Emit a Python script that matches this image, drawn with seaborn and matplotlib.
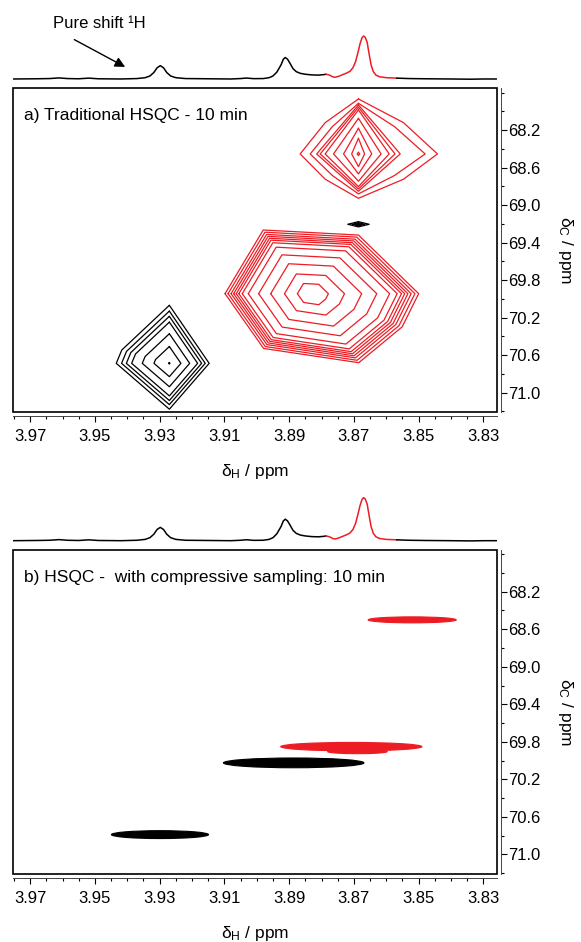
import numpy as np
import matplotlib
matplotlib.use("Agg")
import matplotlib.pyplot as plt
from matplotlib.patches import Ellipse, Rectangle
from matplotlib.ticker import FixedLocator, MultipleLocator, FormatStrFormatter
import seaborn as sns

RED = "#ed1c24"

# 1D pure shift spectrum (ppm, relative intensity)
spec_black1_ppm = [3.9752, 3.9680, 3.9640, 3.9611, 3.9585, 3.9550, 3.9519, 3.9490, 3.9420, 3.9370,
                   3.9345, 3.9330, 3.9318, 3.9308, 3.9298, 3.9288, 3.9278, 3.9266, 3.9250, 3.9220,
                   3.9150, 3.9080, 3.9050, 3.9032, 3.9010, 3.8980, 3.8962, 3.8950, 3.8938, 3.8925,
                   3.8918, 3.8912, 3.8905, 3.8897, 3.8888, 3.8878, 3.8865, 3.8850, 3.8830, 3.8810,
                   3.8795, 3.8786]
spec_black1_int = [0.0, 0.005, 0.01, 0.025, 0.01, 0.005, 0.02, 0.005, 0.0, 0.01,
                   0.03, 0.07, 0.15, 0.26, 0.31, 0.26, 0.15, 0.07, 0.03, 0.01,
                   0.005, 0.0, 0.01, 0.022, 0.008, 0.01, 0.03, 0.07, 0.16, 0.33,
                   0.46, 0.50, 0.46, 0.36, 0.24, 0.17, 0.13, 0.11, 0.095, 0.09,
                   0.10, 0.11]
spec_red_ppm = [3.8786, 3.8775, 3.8765, 3.8758, 3.8748, 3.8735, 3.8722, 3.8712, 3.8703, 3.8695,
                3.8688, 3.8681, 3.8675, 3.8670, 3.8665, 3.8659, 3.8653, 3.8647, 3.8640, 3.8632,
                3.8620, 3.8600, 3.8568]
spec_red_int = [0.11, 0.09, 0.05, 0.04, 0.06, 0.10, 0.14, 0.18, 0.26, 0.40,
                0.60, 0.82, 0.96, 1.0, 0.97, 0.85, 0.58, 0.33, 0.17, 0.09,
                0.05, 0.03, 0.02]
spec_black2_ppm = [3.8568, 3.8530, 3.8480, 3.8400, 3.8340, 3.8300, 3.8259]
spec_black2_int = [0.02, 0.01, 0.005, 0.0, -0.005, 0.0, 0.0]

# a) traditional HSQC
# upper red cross peak: one contour per level (half extents in ppm, shoulder factor)
red_top_center = (3.8686, 68.455)
red_top_left = [0.0180, 0.0149, 0.0129, 0.0118, 0.0103, 0.0077, 0.0046, 0.0021, 0.0004]
red_top_right = [0.0244, 0.0206, 0.0129, 0.0113, 0.0095, 0.0070, 0.0041, 0.0019, 0.0004]
red_top_up = [0.586, 0.540, 0.522, 0.498, 0.469, 0.380, 0.274, 0.167, 0.018]
red_top_down = [0.473, 0.426, 0.398, 0.373, 0.348, 0.291, 0.213, 0.135, 0.018]
red_top_shoulder = [0.57, 0.54, 0.5, 0.5, 0.5, 0.5, 0.5, 0.5, 0.5]

# small black peak
black_small_center = (3.8686, 69.205)
black_small_left = [0.0033, 0.0020, 0.0010]
black_small_right = [0.0033, 0.0020, 0.0010]
black_small_up = [0.028, 0.017, 0.008]
black_small_down = [0.028, 0.017, 0.008]
black_small_shoulder = [0.5, 0.5, 0.5]

# big red peak: outer contour vertices (offsets) and level scales
big_red_center = (3.8832, 69.945)
big_red_dx = [0.0266, 0.0148, -0.0146, -0.0332, -0.0281, -0.0147, 0.0147]
big_red_dy = [0, -0.679, -0.625, 0, 0.354, 0.736, 0.584]
big_red_levels = [1, 0.965, 0.93, 0.9, 0.87, 0.84, 0.8, 0.73, 0.61, 0.47, 0.31, 0.16]

# lower left black peak
black_ll_center = (3.9270, 70.688)
black_ll_dx = [0, 0.0147, 0.0164, 0, -0.0123]
black_ll_dy = [-0.619, -0.142, 0, 0.489, 0]
black_ll_levels = [1, 0.9, 0.81, 0.71, 0.51, 0.29, 0.015]

# b) compressive sampling peaks
ell_x = [3.852, 3.8708, 3.8689, 3.8886, 3.9299]
ell_y = [68.50, 69.852, 69.905, 70.025, 70.79]
ell_hw = [0.0136, 0.0218, 0.0092, 0.0217, 0.015]
ell_hh = [0.032, 0.045, 0.022, 0.052, 0.042]
ell_color = [RED, RED, RED, "black", "black"]

x_ticks = [3.97, 3.95, 3.93, 3.91, 3.89, 3.87, 3.85, 3.83]
y_ticks = [68.2, 68.6, 69.0, 69.4, 69.8, 70.2, 70.6, 71.0]
XLIM = (3.9752, 3.8259)
YLIM = (71.21, 67.755)

sns.set_style("ticks")
plt.rcParams['font.family'] = ['Liberation Sans', 'DejaVu Sans']
plt.rcParams['mathtext.fontset'] = 'custom'
plt.rcParams['mathtext.rm'] = 'Liberation Sans'
plt.rcParams['mathtext.it'] = 'Liberation Sans:italic'
for k in ['text.color', 'axes.labelcolor', 'xtick.color', 'ytick.color']:
    plt.rcParams[k] = 'black'

FW, FH = 581, 942
fig = plt.figure(figsize=(FW / 100, FH / 100), dpi=100)
L = 13.3 / FW
W = 483.4 / FW


def add_spectrum(top_px):
    ax = fig.add_axes([L, (FH - top_px - 86) / FH, W, 86 / FH])
    sns.lineplot(x=spec_black1_ppm, y=spec_black1_int, ax=ax, color="black", lw=1.1, sort=False, estimator=None)
    sns.lineplot(x=spec_red_ppm, y=spec_red_int, ax=ax, color=RED, lw=1.1, sort=False, estimator=None)
    sns.lineplot(x=spec_black2_ppm, y=spec_black2_int, ax=ax, color="black", lw=1.1, sort=False, estimator=None)
    ax.set_xlim(XLIM)
    ax.set_ylim(-0.163, 1.837)
    ax.axis("off")
    return ax


def add_2d(top_px, title):
    ax = fig.add_axes([L, (FH - top_px - 324) / FH, W, 324 / FH])
    ax.set_xlim(XLIM)
    ax.set_ylim(YLIM)
    ax.spines['top'].set_visible(False)
    ax.spines['left'].set_visible(False)
    for s in ['bottom', 'right']:
        ax.spines[s].set_position(('outward', 3))
        ax.spines[s].set_linewidth(0.7)
        ax.spines[s].set_color('#444444')
    ax.add_patch(Rectangle((0, 0), 1, 1, transform=ax.transAxes, fill=False,
                           lw=1.2, ec="black", clip_on=False, zorder=5))
    ax.yaxis.tick_right()
    ax.yaxis.set_label_position('right')
    ax.xaxis.set_major_locator(FixedLocator(x_ticks))
    ax.xaxis.set_major_formatter(FormatStrFormatter('%.2f'))
    ax.xaxis.set_minor_locator(MultipleLocator(0.005))
    ax.yaxis.set_major_locator(FixedLocator(y_ticks))
    ax.yaxis.set_major_formatter(FormatStrFormatter('%.1f'))
    ax.yaxis.set_minor_locator(MultipleLocator(0.2))
    ax.tick_params(which='major', length=4, width=0.8, labelsize=12, direction='out')
    ax.tick_params(which='minor', length=2.5, width=0.8, direction='out')
    ax.tick_params(axis='x', which='both', pad=5)
    ax.tick_params(axis='y', which='both', pad=1.5)
    ax.set_xlabel('δ$_\\mathrm{H}$ / ppm', fontsize=12.5)
    ax.xaxis.set_label_coords(0.5, -0.153)
    ax.set_ylabel('δ$_\\mathrm{C}$ / ppm', fontsize=12.5, rotation=270, va='center')
    ax.yaxis.set_label_coords(1.143, 0.5)
    ax.text(0.022, 0.915, title, transform=ax.transAxes, fontsize=12.5, va='center', ha='left')
    return ax


def draw_scaled(ax, center, dx, dy, levels, color):
    dx = np.append(dx, dx[0])
    dy = np.append(dy, dy[0])
    for s in levels:
        ax.plot(center[0] + s * dx, center[1] + s * dy, color=color, lw=0.9)


def draw_diamonds(ax, center, left, right, up, down, shoulder, color):
    cx, cy = center
    for l, r, u, d, b in zip(left, right, up, down, shoulder):
        xs = [cx, cx - b * r, cx - r, cx - b * r, cx, cx + b * l, cx + l, cx + b * l, cx]
        ys = [cy - u, cy - b * u, cy, cy + b * d, cy + d, cy + b * d, cy, cy - b * u, cy - u]
        ax.plot(xs, ys, color=color, lw=0.9)


# panel a
spec_a = add_spectrum(0)
spec_a.text(3.9628, 1.295, 'Pure shift ¹H', fontsize=12, va='center', ha='left')
spec_a.annotate('', xy=(3.9399, 0.25), xytext=(3.9571, 0.946),
                arrowprops=dict(arrowstyle='-|>', color='black', lw=1.0, mutation_scale=15))
ax_a = add_2d(88.3, 'a) Traditional HSQC - 10 min')
draw_diamonds(ax_a, red_top_center, red_top_left, red_top_right, red_top_up, red_top_down,
              red_top_shoulder, RED)
draw_diamonds(ax_a, black_small_center, black_small_left, black_small_right,
              black_small_up, black_small_down, black_small_shoulder, "black")
draw_scaled(ax_a, big_red_center, big_red_dx, big_red_dy, big_red_levels, RED)
draw_scaled(ax_a, black_ll_center, black_ll_dx, black_ll_dy, black_ll_levels, "black")

# panel b
spec_b = add_spectrum(461.7)
ax_b = add_2d(550, 'b) HSQC -  with compressive sampling: 10 min')
for x, y, hw, hh, c in zip(ell_x, ell_y, ell_hw, ell_hh, ell_color):
    ax_b.add_patch(Ellipse((x, y), 2 * hw, 2 * hh, fc=c, ec=c, lw=0.8))

fig.savefig("out.png", dpi=100)
